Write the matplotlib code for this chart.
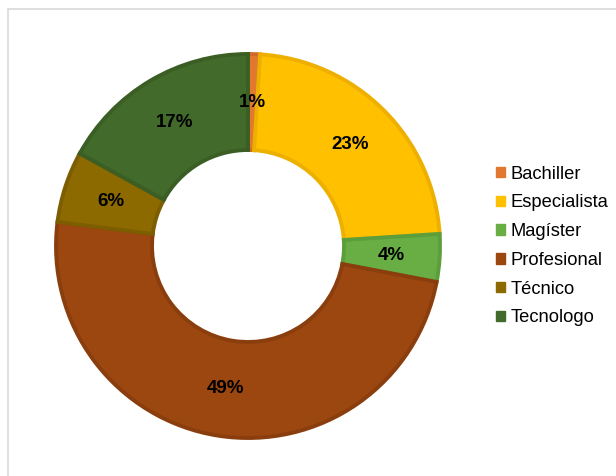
import numpy as np
import matplotlib.pyplot as plt
import matplotlib.patches as mpatches

plt.rcParams["font.family"] = ["Liberation Sans", "DejaVu Sans"]

categorias = ["Bachiller", "Especialista", "Magíster", "Profesional", "Técnico", "Tecnologo"]
porcentajes = [1, 23, 4, 49, 6, 17]
colores = ["#E2772F", "#FFC000", "#68AE45", "#9C4710", "#8C6A00", "#426A2A"]
bordes = ["#CF6A28", "#EDB000", "#5C9E3B", "#8A3E0D", "#7C5D00", "#3A5E24"]

fig = plt.figure(figsize=(6.16, 4.76), dpi=100)

# marco gris del área del gráfico
fig.patches.append(mpatches.Rectangle((8 / 616, -0.1), 1.1, (476 - 9) / 476 + 0.1,
                                      transform=fig.transFigure, fill=False,
                                      edgecolor="#D9D9D9", linewidth=1.2))

cx, cy, r = 248, 246, 192
ax = fig.add_axes([(cx - r) / 616, (476 - cy - r) / 476, 2 * r / 616, 2 * r / 476])

wedges, _ = ax.pie(porcentajes, colors=colores, startangle=90, counterclock=False,
                   radius=1, wedgeprops=dict(width=0.5, linewidth=2.8))
for w, b in zip(wedges, bordes):
    w.set_edgecolor(b)

# etiquetas de porcentaje en el centro del anillo
acum = 0
for p in porcentajes:
    ang = np.deg2rad(90 - (acum + p / 2) * 3.6)
    ax.text(0.75 * np.cos(ang), 0.75 * np.sin(ang), f"{p}%", ha="center", va="center",
            fontsize=13.5, fontweight="bold", color="black")
    acum += p

ax.set_xlim(-1, 1)
ax.set_ylim(-1, 1)
ax.set_aspect("equal")
ax.axis("off")

handles = [mpatches.Patch(facecolor=c, edgecolor=c) for c in colores]
fig.legend(handles, categorias, loc="center left", bbox_to_anchor=(496 / 616, 0.5 - (246 - 238) / 476),
           frameon=False, fontsize=13.2, handlelength=0.5, handleheight=0.5,
           handletextpad=0.3, labelspacing=0.64, borderpad=0, borderaxespad=0)

fig.savefig("out.png", dpi=100)
